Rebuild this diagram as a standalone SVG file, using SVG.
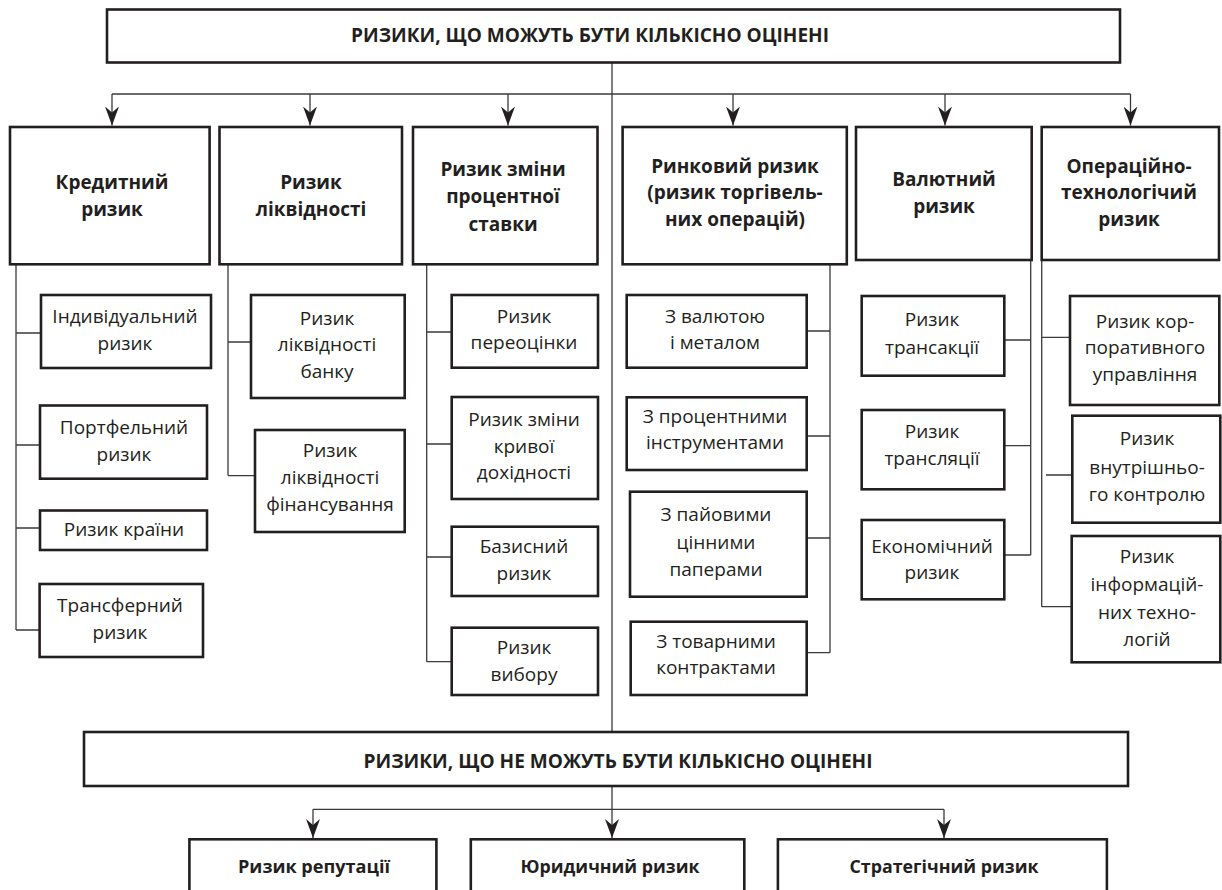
<svg xmlns="http://www.w3.org/2000/svg" width="1222" height="890" viewBox="0 0 1222 890">
<style>
.b{fill:#fff;stroke:#231f20;stroke-width:2.6}
.c{fill:none;stroke:#3a3a3a;stroke-width:1.3}
.ah{fill:#231f20;stroke:none}
.h{font-family:"Open Sans","Liberation Sans",sans-serif;font-weight:700;font-size:19px;fill:#231f20;text-anchor:middle}
.t1{font-family:"Open Sans","Liberation Sans",sans-serif;font-weight:700;font-size:19px;fill:#231f20;text-anchor:middle}
.t2{font-family:"Open Sans","Liberation Sans",sans-serif;font-weight:400;font-size:19px;fill:#231f20;text-anchor:middle}
.t3{font-family:"Open Sans","Liberation Sans",sans-serif;font-weight:700;font-size:18px;fill:#231f20;text-anchor:middle}
</style>
<defs>
<marker id="arr" viewBox="0 0 19 14" refX="19" refY="7" markerWidth="19" markerHeight="14" markerUnits="userSpaceOnUse" orient="auto">
<path class="ah" d="M0,0 L19,7 L0,14 L6,7 Z"/>
</marker>
</defs>
<rect width="1222" height="890" fill="#fff"/>
<g id="connectors">
<path class="c" d="M612,62 V732"/>
<path class="c" d="M112,94 H1130.5"/>
<path class="c" marker-end="url(#arr)" d="M112,94 V125.5"/>
<path class="c" marker-end="url(#arr)" d="M310,94 V125.5"/>
<path class="c" marker-end="url(#arr)" d="M508,94 V125.5"/>
<path class="c" marker-end="url(#arr)" d="M733,94 V125.5"/>
<path class="c" marker-end="url(#arr)" d="M945,94 V125.5"/>
<path class="c" marker-end="url(#arr)" d="M1130.5,94 V125.5"/>
<path class="c" d="M16,264 V630 M16,333 H41 M16,445 H40 M16,528 H40 M16,630 H40"/>
<path class="c" d="M228,264 V475.6 M228,342 H251 M228,475.6 H255"/>
<path class="c" d="M426.7,264 V661.7 M426.7,332 H452 M426.7,444 H452 M426.7,557 H452 M426.7,661.7 H452"/>
<path class="c" d="M830,264 V652.7 M806.7,331 H830 M806.7,436 H830 M806.7,538 H830 M806.7,652.7 H830"/>
<path class="c" d="M1030.7,260 V555 M1004.3,340 H1030.7 M1004.3,445.7 H1030.7 M1004.3,555 H1030.7"/>
<path class="c" d="M1041.7,260 V606.7 M1041.7,337.3 H1070 M1046,475 H1072 M1041.7,606.7 H1072"/>
<path class="c" d="M612,786 V809.3 M313,809.3 H944"/>
<path class="c" marker-end="url(#arr)" d="M313,809.3 V838"/>
<path class="c" marker-end="url(#arr)" d="M612,809.3 V838"/>
<path class="c" marker-end="url(#arr)" d="M944,809.3 V838"/>
</g>
<g id="top">
<rect class="b" x="107" y="9.5" width="1013" height="53"/>
<text class="h" x="590" y="41.7" textLength="478" lengthAdjust="spacingAndGlyphs">РИЗИКИ, ЩО МОЖУТЬ БУТИ КІЛЬКІСНО ОЦІНЕНІ</text>
</g>
<g id="credit">
<rect class="b" x="10" y="127" width="199.6" height="137.3"/>
<text class="t1" x="112"><tspan x="112" y="189">Кредитний</tspan><tspan x="112" y="216">ризик</tspan></text>
</g>
<g id="liquidity">
<rect class="b" x="219.5" y="127" width="182.5" height="137.3"/>
<text class="t1"><tspan x="311" y="189">Ризик</tspan><tspan x="311" y="216">ліквідності</tspan></text>
</g>
<g id="interest">
<rect class="b" x="413" y="127" width="184.5" height="137.3"/>
<text class="t1"><tspan x="503" y="176">Ризик зміни</tspan><tspan x="503" y="203">процентної</tspan><tspan x="503" y="231">ставки</tspan></text>
</g>
<g id="market">
<rect class="b" x="622.6" y="127" width="224.2" height="137.3"/>
<text class="t1"><tspan x="735" y="173">Ринковий ризик</tspan><tspan x="735" y="199">(ризик торгівель-</tspan><tspan x="735" y="226">них операцій)</tspan></text>
</g>
<g id="currency">
<rect class="b" x="856" y="127" width="175.7" height="133"/>
<text class="t1"><tspan x="944" y="186">Валютний</tspan><tspan x="944" y="213">ризик</tspan></text>
</g>
<g id="operational">
<rect class="b" x="1041.7" y="127" width="177.3" height="133"/>
<text class="t1"><tspan x="1129" y="173">Операційно-</tspan><tspan x="1129" y="199">технологічий</tspan><tspan x="1129" y="226">ризик</tspan></text>
</g>
<g id="individual">
<rect class="b" x="41" y="295" width="170" height="73"/>
<text class="t2"><tspan x="125" y="323">Індивідуальний</tspan><tspan x="125" y="350">ризик</tspan></text>
</g>
<g id="portfolio">
<rect class="b" x="40" y="405.5" width="167" height="73.2"/>
<text class="t2"><tspan x="124" y="434">Портфельний</tspan><tspan x="124" y="460.5">ризик</tspan></text>
</g>
<g id="country">
<rect class="b" x="40" y="510.5" width="167" height="39.5"/>
<text class="t2" x="124" y="536">Ризик країни</text>
</g>
<g id="transfer">
<rect class="b" x="39.6" y="584" width="163.4" height="73"/>
<text class="t2"><tspan x="120" y="611.5">Трансферний</tspan><tspan x="120" y="639">ризик</tspan></text>
</g>
<g id="bank-liquidity">
<rect class="b" x="251" y="295" width="153.7" height="103"/>
<text class="t2"><tspan x="327" y="324.6">Ризик</tspan><tspan x="327" y="351.4">ліквідності</tspan><tspan x="327" y="378">банку</tspan></text>
</g>
<g id="funding-liquidity">
<rect class="b" x="255" y="430" width="149.7" height="102"/>
<text class="t2"><tspan x="330" y="457">Ризик</tspan><tspan x="330" y="484">ліквідності</tspan><tspan x="330" y="511">фінансування</tspan></text>
</g>
<g id="revaluation">
<rect class="b" x="451.7" y="295" width="146.3" height="72.7"/>
<text class="t2"><tspan x="524" y="322.7">Ризик</tspan><tspan x="524" y="349">переоцінки</tspan></text>
</g>
<g id="yield-curve">
<rect class="b" x="451.7" y="397" width="146.3" height="102"/>
<text class="t2"><tspan x="524" y="426">Ризик зміни</tspan><tspan x="524" y="452.7">кривої</tspan><tspan x="524" y="479.3">дохідності</tspan></text>
</g>
<g id="basis">
<rect class="b" x="451.7" y="526.7" width="146.3" height="69.3"/>
<text class="t2"><tspan x="524" y="552.7">Базисний</tspan><tspan x="524" y="580.3">ризик</tspan></text>
</g>
<g id="option">
<rect class="b" x="451.7" y="627.7" width="146.3" height="67.3"/>
<text class="t2"><tspan x="524" y="654">Ризик</tspan><tspan x="524" y="681">вибору</tspan></text>
</g>
<g id="fx-metal">
<rect class="b" x="626.7" y="295" width="180" height="72.7"/>
<text class="t2"><tspan x="715" y="323">З валютою</tspan><tspan x="715" y="349">і металом</tspan></text>
</g>
<g id="interest-instr">
<rect class="b" x="626.7" y="397.3" width="180" height="72.7"/>
<text class="t2"><tspan x="715" y="422.7">З процентними</tspan><tspan x="715" y="449.3">інструментами</tspan></text>
</g>
<g id="equity">
<rect class="b" x="630" y="491.7" width="176.7" height="105"/>
<text class="t2"><tspan x="716" y="521">З пайовими</tspan><tspan x="716" y="549.3">цінними</tspan><tspan x="716" y="576">паперами</tspan></text>
</g>
<g id="commodity">
<rect class="b" x="630.7" y="621.7" width="176" height="73.3"/>
<text class="t2"><tspan x="716" y="647.7">З товарними</tspan><tspan x="716" y="674">контрактами</tspan></text>
</g>
<g id="transaction">
<rect class="b" x="861.7" y="296" width="142.6" height="79.7"/>
<text class="t2"><tspan x="932" y="326">Ризик</tspan><tspan x="932" y="354.3">трансакції</tspan></text>
</g>
<g id="translation">
<rect class="b" x="861.7" y="410" width="142.6" height="79.3"/>
<text class="t2"><tspan x="932" y="437.7">Ризик</tspan><tspan x="932" y="465">трансляції</tspan></text>
</g>
<g id="economic">
<rect class="b" x="861.7" y="520" width="142.6" height="79.3"/>
<text class="t2"><tspan x="932" y="552.7">Економічний</tspan><tspan x="932" y="579.3">ризик</tspan></text>
</g>
<g id="governance">
<rect class="b" x="1070" y="296" width="149.3" height="109"/>
<text class="t2"><tspan x="1145" y="327.7">Ризик кор-</tspan><tspan x="1145" y="354.3">поративного</tspan><tspan x="1145" y="381">управління</tspan></text>
</g>
<g id="internal-control">
<rect class="b" x="1072.3" y="415.7" width="148" height="107"/>
<text class="t2"><tspan x="1147" y="445.3">Ризик</tspan><tspan x="1147" y="474.3">внутрішньо-</tspan><tspan x="1147" y="501">го контролю</tspan></text>
</g>
<g id="it">
<rect class="b" x="1071.7" y="536" width="148.6" height="126.3"/>
<text class="t2"><tspan x="1147" y="562.7">Ризик</tspan><tspan x="1147" y="591">інформацій-</tspan><tspan x="1147" y="618.7">них техно-</tspan><tspan x="1147" y="646">логій</tspan></text>
</g>
<g id="bottom">
<rect class="b" x="84" y="732" width="1044" height="54"/>
<text class="h" x="618" y="768.4" textLength="509" lengthAdjust="spacingAndGlyphs">РИЗИКИ, ЩО НЕ МОЖУТЬ БУТИ КІЛЬКІСНО ОЦІНЕНІ</text>
</g>
<g id="reputation">
<rect class="b" x="189.4" y="839.3" width="247" height="70"/>
<text class="t3" x="314" y="873" textLength="152" lengthAdjust="spacingAndGlyphs">Ризик репутації</text>
</g>
<g id="legal">
<rect class="b" x="470.8" y="839.3" width="273.5" height="70"/>
<text class="t3" x="610" y="873" textLength="179" lengthAdjust="spacingAndGlyphs">Юридичний ризик</text>
</g>
<g id="strategic">
<rect class="b" x="777.9" y="839.3" width="329" height="70"/>
<text class="t3" x="944" y="873" textLength="189" lengthAdjust="spacingAndGlyphs">Стратегічний ризик</text>
</g>
</svg>
